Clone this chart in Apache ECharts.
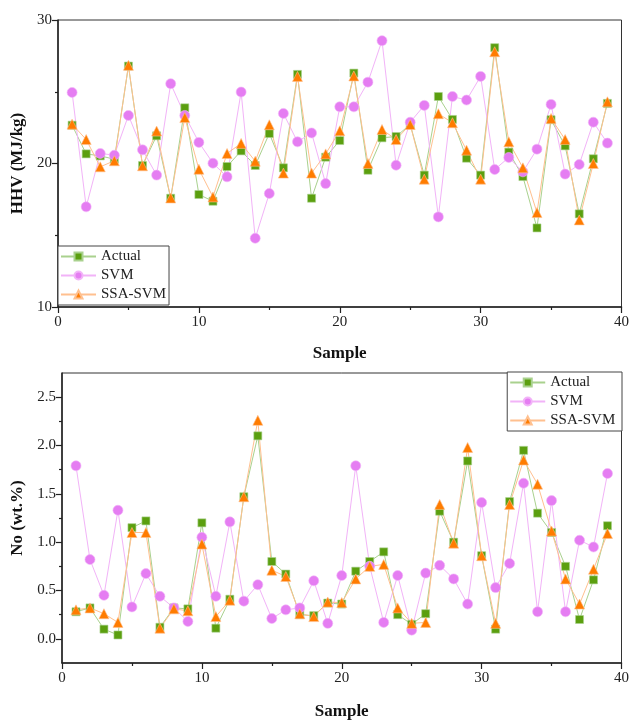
<!DOCTYPE html>
<html>
<head>
<meta charset="utf-8">
<script src="https://cdn.jsdelivr.net/npm/echarts@6/dist/echarts.min.js"></script>
<style>
  html, body { margin: 0; padding: 0; background: #fff; }
  #chart { width: 632px; height: 721px; }
</style>
</head>
<body>
<div id="chart"></div>
<script>
// sample numbers 1..39
var samples = [1, 2, 3, 4, 5, 6, 7, 8, 9, 10, 11, 12, 13, 14, 15, 16, 17, 18, 19, 20,
  21, 22, 23, 24, 25, 26, 27, 28, 29, 30, 31, 32, 33, 34, 35, 36, 37, 38, 39]

// HHV (MJ/kg)
var actualHHV = [22.67, 20.67, 20.53, 20.3, 26.79, 19.86, 21.93, 17.58, 23.88, 17.84, 17.37, 19.79, 20.88,
  19.86, 22.09, 19.7, 26.21, 17.58, 20.44, 21.6, 26.3, 19.53, 21.79, 21.88, 22.72, 19.19, 24.67,
  23.07, 20.37, 19.19, 28.07, 20.79, 19.09, 15.51, 23.05, 21.23, 16.49, 20.33, 24.19]
var svmHHV = [24.95, 16.98, 20.7, 20.58, 23.35, 20.95, 19.19, 25.56, 23.35, 21.47, 20.02, 19.07, 24.98,
  14.79, 17.91, 23.49, 21.51, 22.13, 18.6, 23.95, 23.95, 25.67, 28.56, 19.88, 22.88, 24.05, 16.28,
  24.67, 24.42, 26.07, 19.58, 20.42, 19.42, 21.0, 24.12, 19.26, 19.93, 22.88, 21.42]
var ssaHHV = [22.74, 21.67, 19.77, 20.19, 26.84, 19.84, 22.26, 17.6, 23.2, 19.6, 17.67, 20.7, 21.4,
  20.16, 22.7, 19.33, 26.07, 19.33, 20.67, 22.28, 26.1, 20.0, 22.37, 21.67, 22.72, 18.91, 23.47,
  22.84, 20.93, 18.91, 27.79, 21.51, 19.7, 16.58, 23.14, 21.67, 16.07, 20.0, 24.3]

// No (wt.%)
var actualNo = [0.28, 0.32, 0.10, 0.04, 1.15, 1.22, 0.12, 0.32, 0.31, 1.20, 0.11, 0.41, 1.47,
  2.10, 0.80, 0.67, 0.25, 0.24, 0.37, 0.36, 0.70, 0.80, 0.90, 0.25, 0.15, 0.26, 1.32,
  1.00, 1.84, 0.86, 0.10, 1.42, 1.95, 1.30, 1.10, 0.75, 0.20, 0.61, 1.17]
var svmNo = [1.79, 0.82, 0.45, 1.33, 0.33, 0.675, 0.44, 0.32, 0.18, 1.05, 0.44, 1.21, 0.39,
  0.56, 0.21, 0.30, 0.32, 0.60, 0.16, 0.655, 1.79, 0.75, 0.17, 0.655, 0.09, 0.68, 0.76,
  0.62, 0.36, 1.41, 0.53, 0.78, 1.61, 0.28, 1.43, 0.28, 1.02, 0.95, 1.71]
var ssaNo = [0.30, 0.32, 0.26, 0.17, 1.10, 1.10, 0.11, 0.31, 0.29, 0.98, 0.23, 0.40, 1.47,
  2.26, 0.71, 0.645, 0.26, 0.23, 0.38, 0.375, 0.62, 0.75, 0.77, 0.32, 0.16, 0.17, 1.39,
  0.99, 1.98, 0.86, 0.16, 1.39, 1.85, 1.60, 1.115, 0.62, 0.36, 0.72, 1.09]

// tick labels
var sampleTicks = [0, 10, 20, 30, 40]
var hhvTicks = [10, 20, 30]
var noTicks = [0, 0.5, 1, 1.5, 2, 2.5]
var noMinorTicks = [0.25, 0.75, 1.25, 1.75, 2.25]

var font = 'Liberation Serif'
var axisColor = '#222'

function pairs(ys) {
  return samples.map(function (x, i) { return [x, ys[i]] })
}

// 一个系列的样式
function makeSeries(name, data, idx, symbol, size, color, lineColor) {
  return {
    name: name,
    type: 'line',
    xAxisIndex: idx,
    yAxisIndex: idx,
    data: pairs(data),
    symbol: symbol,
    symbolSize: size,
    showAllSymbol: true,
    animation: false,
    itemStyle: { color: color, borderColor: lineColor, borderWidth: 0.6, opacity: 1 },
    lineStyle: { color: lineColor, width: 1 }
  }
}

function xAxisCfg(idx, gap) {
  return {
    type: 'value',
    gridIndex: idx,
    min: 0,
    max: 40,
    interval: 10,
    name: 'Sample',
    nameLocation: 'middle',
    nameGap: gap,
    nameTextStyle: { fontFamily: font, fontWeight: 'bold', fontSize: 17, color: '#111' },
    axisLine: { show: true, onZero: false, lineStyle: { color: axisColor, width: 1.5 } },
    axisTick: { show: true, length: 6, lineStyle: { color: axisColor, width: 1.2 } },
    minorTick: { show: true, splitNumber: 2, length: 3, lineStyle: { color: axisColor, width: 1.2 } },
    axisLabel: { fontFamily: font, fontSize: 15, color: '#222', margin: 8,
      customValues: sampleTicks },
    splitLine: { show: false }
  }
}

var legendText = { fontFamily: font, fontSize: 15, color: '#222' }

var option = {
  backgroundColor: '#fff',
  animation: false,
  grid: [
    { left: 58, right: 10, top: 20, height: 287, show: true, borderColor: '#333', borderWidth: 1 },
    { left: 62, right: 10, top: 373, height: 292, show: true, borderColor: '#333', borderWidth: 1 }
  ],
  legend: [
    {
      data: ['Actual', 'SVM', 'SSA-SVM'],
      orient: 'vertical',
      left: 58,
      top: 246,
      itemGap: 4,
      itemWidth: 35,
      itemHeight: 10,
      padding: [3, 3, 3, 2],
      borderColor: '#444',
      borderWidth: 1,
      backgroundColor: '#fff',
      textStyle: legendText
    },
    {
      data: ['Actual ', 'SVM ', 'SSA-SVM '],
      orient: 'vertical',
      right: 10,
      top: 372,
      itemGap: 4,
      itemWidth: 35,
      itemHeight: 10,
      padding: [3, 3, 3, 2],
      borderColor: '#444',
      borderWidth: 1,
      backgroundColor: '#fff',
      textStyle: legendText
    }
  ],
  xAxis: [xAxisCfg(0, 38), xAxisCfg(1, 40)],
  yAxis: [
    {
      type: 'value',
      gridIndex: 0,
      min: 10,
      max: 30,
      interval: 10,
      name: 'HHV (MJ/kg)',
      nameLocation: 'middle',
      nameGap: 30,
      nameTextStyle: { fontFamily: font, fontWeight: 'bold', fontSize: 17, color: '#111' },
      axisLine: { show: true, onZero: false, lineStyle: { color: axisColor, width: 1.5 } },
      axisTick: { show: true, length: 6, lineStyle: { color: axisColor, width: 1.2 } },
      minorTick: { show: true, splitNumber: 2, length: 3, lineStyle: { color: axisColor, width: 1.2 } },
      axisLabel: { fontFamily: font, fontSize: 15, color: '#222', margin: 6, customValues: hhvTicks },
      splitLine: { show: false }
    },
    {
      type: 'value',
      gridIndex: 1,
      min: -0.25,
      max: 2.75,
      name: 'No (wt.%)',
      nameLocation: 'middle',
      nameGap: 36,
      nameTextStyle: { fontFamily: font, fontWeight: 'bold', fontSize: 17, color: '#111' },
      axisLine: { show: true, onZero: false, lineStyle: { color: axisColor, width: 1.5 } },
      axisTick: { show: true, length: 6, customValues: noTicks, lineStyle: { color: axisColor, width: 1.2 } },
      axisLabel: {
        fontFamily: font, fontSize: 15, color: '#222', margin: 6,
        customValues: noTicks,
        formatter: function (v) { return v.toFixed(1) }
      },
      splitLine: { show: false }
    },
    {
      // minor ticks of the lower y axis
      type: 'value',
      gridIndex: 1,
      position: 'left',
      min: -0.25,
      max: 2.75,
      axisLine: { show: false },
      axisTick: { show: true, length: 3, customValues: noMinorTicks, lineStyle: { color: axisColor, width: 1.2 } },
      axisLabel: { show: false },
      splitLine: { show: false }
    }
  ],
  series: [
    makeSeries('Actual', actualHHV, 0, 'rect', 8, '#5b9f0f', '#a9d18e'),
    makeSeries('SVM', svmHHV, 0, 'circle', 10, '#e57df2', '#f2b3f8'),
    makeSeries('SSA-SVM', ssaHHV, 0, 'triangle', 10, '#ff7c00', '#ffc08f'),
    makeSeries('Actual ', actualNo, 1, 'rect', 8, '#5b9f0f', '#a9d18e'),
    makeSeries('SVM ', svmNo, 1, 'circle', 10, '#e57df2', '#f2b3f8'),
    makeSeries('SSA-SVM ', ssaNo, 1, 'triangle', 10, '#ff7c00', '#ffc08f')
  ]
}

var myChart = echarts.init(document.getElementById('chart'), null, { renderer: 'canvas' })
myChart.setOption(option)
</script>
</body>
</html>
